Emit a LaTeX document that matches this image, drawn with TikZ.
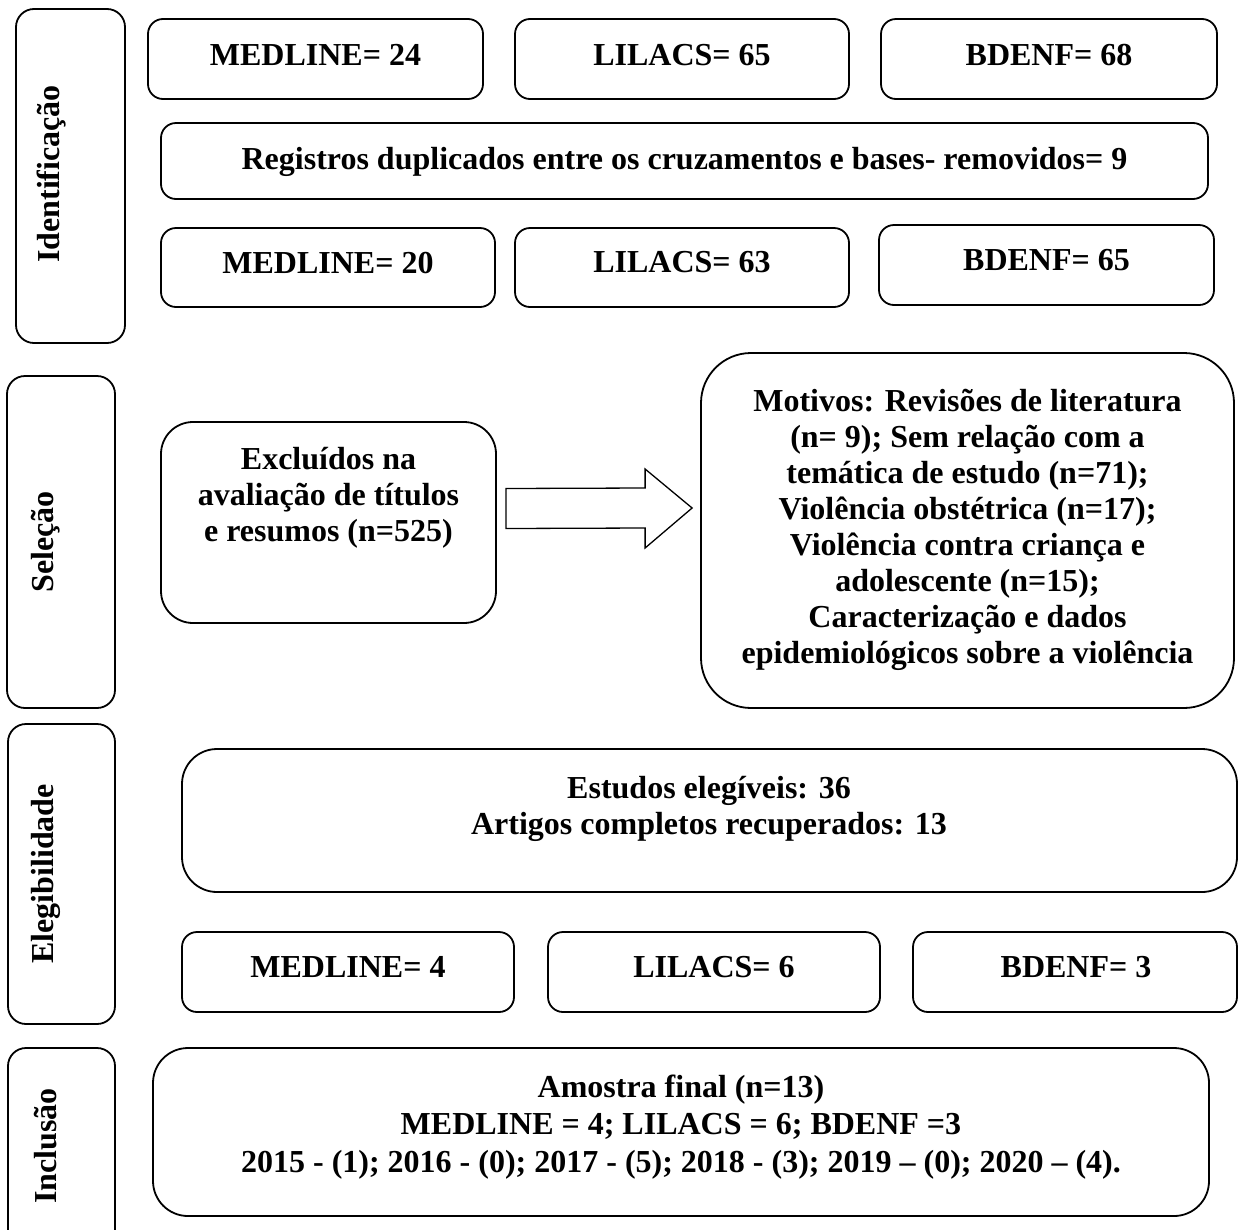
\documentclass[tikz,border=0pt]{standalone}
\usepackage{fontspec}
\setmainfont{Liberation Serif}
\usetikzlibrary{fit,calc}
\begin{document}
\begin{tikzpicture}[x=1pt,y=-1pt,
  box/.style={draw=black, line width=1.8pt, inner sep=0pt},
  txt/.style={font=\fontsize{32}{36}\selectfont\bfseries, align=center, inner sep=0pt},
  side/.style={font=\fontsize{32}{36}\selectfont\bfseries, inner sep=0pt, rotate=90},
  blockarrow/.style={draw=black, line width=1.3pt, fill=white, line join=miter}]
\useasboundingbox (0,0) rectangle (1239,1229);
% side boxes
\node[box, rounded corners=18pt, fit={(16,9) (125,343)}] (sid) {};
\node[side] (lid) at (52,174) {Identificação};
\node[box, rounded corners=18pt, fit={(7,376) (115,708)}] (ssel) {};
\node[side] (lsel) at (46,542) {Seleção};
\node[box, rounded corners=18pt, fit={(8,724) (115,1024)}] (seleg) {};
\node[side] (leleg) at (46,874) {Elegibilidade};
\node[box, rounded corners=18pt, fit={(8,1048) (115,1260)}] (sinc) {};
\node[side] (linc) at (46,1146) {Inclusão};
% identification row 1
\node[box, rounded corners=15pt, fit={(148,19) (483,99)}] (m24) {};
\node[txt] (m24t) at (315.5,55) {MEDLINE= 24};
\node[box, rounded corners=15pt, fit={(515,19) (849,99)}] (l65) {};
\node[txt] (l65t) at (682,55) {LILACS= 65};
\node[box, rounded corners=15pt, fit={(881,19) (1217,99)}] (b68) {};
\node[txt] (b68t) at (1049,55) {BDENF= 68};
% duplicates
\node[box, rounded corners=15pt, fit={(161,123) (1208,199)}] (dup) {};
\node[txt] (dupt) at (684.5,162) {Registros duplicados entre os cruzamentos e bases- removidos= 9};
% identification row 3
\node[box, rounded corners=15pt, fit={(161,228) (495,307)}] (m20) {};
\node[txt] (m20t) at (328,263) {MEDLINE= 20};
\node[box, rounded corners=15pt, fit={(515,228) (849,307)}] (l63) {};
\node[txt] (l63t) at (682,262) {LILACS= 63};
\node[box, rounded corners=15pt, fit={(879,225) (1214,305)}] (b65) {};
\node[txt] (b65t) at (1046.5,260) {BDENF= 65};
% selection
\node[box, rounded corners=32pt, fit={(161,422) (496,623)}] (exc) {};
\node[txt] (exct) at (328.5,498) {Excluídos na\\avaliação de títulos\\e resumos (n=525)};
\node[box, rounded corners=50pt, fit={(701,353) (1234,708)}] (mot) {};
\node[txt] (mott) at (967.5,530) {Motivos: Revisões de literatura\\(n= 9); Sem relação com a\\temática de estudo (n=71);\\Violência obstétrica (n=17);\\Violência contra criança e\\adolescente (n=15);\\Caracterização e dados\\epidemiológicos sobre a violência};
\coordinate (atail) at ($(exc.east)+(9,-14)$);
\coordinate (atip) at ($(mot.west)+(-8,-22.5)$);
\draw[blockarrow] ($(atail)+(0,-20)$) -- ($(atip)+(-47,-20)$) -- ($(atip)+(-47,-39)$) -- (atip) -- ($(atip)+(-47,40)$) -- ($(atip)+(-47,20)$) -- ($(atail)+(0,20)$) -- cycle;
% eligibility
\node[box, rounded corners=35pt, fit={(182,749) (1237,892)}] (est) {};
\node[txt] (estt) at (709,809) {Estudos elegíveis: 36\\Artigos completos recuperados: 13};
\node[box, rounded corners=15pt, fit={(182,932) (514,1012)}] (m4) {};
\node[txt] (m4t) at (348,967) {MEDLINE= 4};
\node[box, rounded corners=15pt, fit={(548,932) (880,1012)}] (l6) {};
\node[txt] (l6t) at (714,967) {LILACS= 6};
\node[box, rounded corners=15pt, fit={(913,932) (1237,1012)}] (b3) {};
\node[txt] (b3t) at (1076,967) {BDENF= 3};
% inclusion
\node[box, rounded corners=35pt, fit={(153,1048) (1209,1216)}] (amo) {};
\node[txt, font=\fontsize{32}{37.5}\selectfont\bfseries] (amot) at (681,1127) {Amostra final (n=13)\\MEDLINE = 4; LILACS = 6; BDENF =3\\2015 - (1); 2016 - (0); 2017 - (5); 2018 - (3); 2019 – (0); 2020 – (4).};
\end{tikzpicture}
\end{document}
